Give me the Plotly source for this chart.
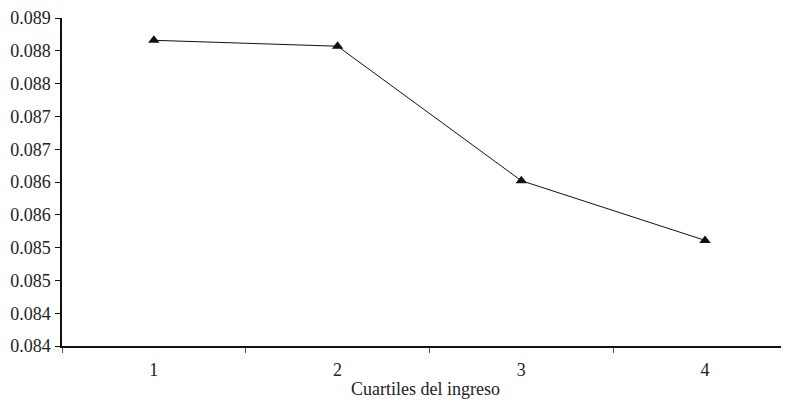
import plotly.graph_objects as go

cuartiles = [1, 2, 3, 4]
valores = [0.08866, 0.08857, 0.08652, 0.08561]
y_ticks = [0.0840, 0.0845, 0.0850, 0.0855, 0.0860, 0.0865, 0.0870, 0.0875, 0.0880, 0.0885, 0.0890]
y_labels = ["0.084", "0.084", "0.085", "0.085", "0.086", "0.086", "0.087", "0.087", "0.088", "0.088", "0.089"]
x_title = "Cuartiles del ingreso"

font = dict(family="Liberation Serif, Times New Roman, serif", size=18, color="#222222")

fig = go.Figure(go.Scatter(
    x=cuartiles, y=valores, mode="lines+markers",
    line=dict(color="#111111", width=1),
    marker=dict(symbol="triangle-up", size=10, color="#111111"),
    showlegend=False, cliponaxis=False,
))

# the page body has an 8px margin, so the figure is shrunk and shifted to compensate
fig.update_layout(
    width=781, height=396,
    margin=dict(l=54, r=0, t=6, b=58),
    paper_bgcolor="white", plot_bgcolor="white",
    font=font,
    xaxis=dict(
        range=[0.5, 4.457], tickvals=cuartiles, ticktext=[str(c) for c in cuartiles],
        ticks="", showgrid=False, zeroline=False,
        showline=True, linecolor="#111111", linewidth=2,
        minor=dict(tickmode="array", tickvals=[0.5, 1.5, 2.5, 3.5], ticks="outside",
                   ticklen=5, tickcolor="#555555", tickwidth=1, showgrid=False),
        title=dict(text=x_title, standoff=4, font=font),
        ticklabelstandoff=6,
        ticklabeloverflow="allow",
    ),
    yaxis=dict(
        range=[0.084, 0.089], tickvals=y_ticks, ticktext=y_labels,
        ticks="outside", ticklen=5, tickcolor="#111111", tickwidth=1,
        showgrid=False, zeroline=False,
        showline=True, linecolor="#111111", linewidth=1.5,
        ticklabelstandoff=1,
        ticklabeloverflow="allow",
    ),
)

fig.write_html("out.html")
